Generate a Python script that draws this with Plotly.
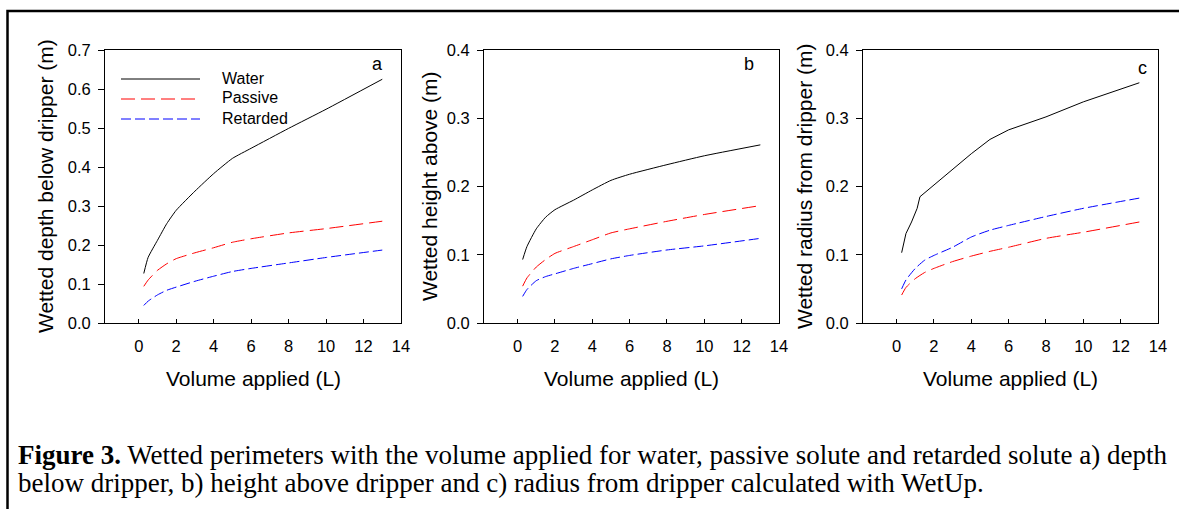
import plotly.graph_objects as go

W, H = 1179, 509

# ---------------- data ----------------
volume = [0.27, 0.5, 1, 1.5, 2, 3, 4, 5, 6, 8, 10, 13]

depth_water = [0.127, 0.168, 0.212, 0.255, 0.289, 0.338, 0.383, 0.422, 0.448, 0.499, 0.548, 0.625]
depth_passive = [0.094, 0.110, 0.135, 0.152, 0.165, 0.180, 0.193, 0.207, 0.216, 0.231, 0.242, 0.261]
depth_retarded = [0.045, 0.056, 0.072, 0.084, 0.092, 0.107, 0.120, 0.132, 0.140, 0.154, 0.168, 0.187]

height_water = [0.093, 0.112, 0.138, 0.155, 0.166, 0.180, 0.195, 0.209, 0.218, 0.232, 0.245, 0.261]
height_passive = [0.054, 0.066, 0.082, 0.093, 0.102, 0.112, 0.122, 0.132, 0.138, 0.149, 0.159, 0.172]
height_retarded = [0.039, 0.049, 0.062, 0.068, 0.072, 0.080, 0.087, 0.094, 0.099, 0.107, 0.113, 0.124]

radius_water_volume = [0.27, 0.5, 0.8, 1.1, 1.25, 2, 3, 4, 5, 6, 8, 10, 13]
radius_water = [0.103, 0.131, 0.148, 0.168, 0.185, 0.202, 0.224, 0.248, 0.269, 0.283, 0.302, 0.324, 0.352]
radius_passive = [0.041, 0.052, 0.065, 0.074, 0.080, 0.090, 0.098, 0.105, 0.111, 0.124, 0.133, 0.148]
radius_retarded = [0.050, 0.063, 0.080, 0.092, 0.099, 0.111, 0.126, 0.136, 0.143, 0.156, 0.168, 0.183]

x_ticks = [0, 2, 4, 6, 8, 10, 12, 14]
series_names = ["Water", "Passive", "Retarded"]
y_titles = ["Wetted depth below dripper (m)", "Wetted height above (m)", "Wetted radius from dripper (m)"]
panel_letters = ["a", "b", "c"]
y_max = [0.7, 0.4, 0.4]
x_title = "Volume applied (L)"
caption_1 = "<b>Figure 3.</b> Wetted perimeters with the volume applied for water, passive solute and retarded solute a) depth"
caption_2 = "below dripper, b) height above dripper and c) radius from dripper calculated with WetUp."

# ---------------- styling ----------------
SANS = "Liberation Sans, Arial, sans-serif"
SERIF = "Liberation Serif, Times New Roman, serif"
styles = {
    "Water": dict(color="black", width=1, dash="solid"),
    "Passive": dict(color="#ff0000", width=1, dash="14px,6px"),
    "Retarded": dict(color="#0000ff", width=1, dash="10px,4px"),
}

# pixel geometry of the three plot areas (left, right)
panels_px = [(105, 401), (484, 779), (863, 1158)]
top_px, bottom_px = 50, 323
ydom = [1 - bottom_px / H, 1 - top_px / H]

fig = go.Figure()

panel_data = [
    [(volume, depth_water), (volume, depth_passive), (volume, depth_retarded)],
    [(volume, height_water), (volume, height_passive), (volume, height_retarded)],
    [(radius_water_volume, radius_water), (volume, radius_passive), (volume, radius_retarded)],
]

for i, series in enumerate(panel_data):
    sfx = "" if i == 0 else str(i + 1)
    for name, (xs, ys) in zip(series_names, series):
        st = styles[name]
        shape = "linear" if (i == 2 and name == "Water") else "spline"
        fig.add_trace(go.Scatter(
            x=xs, y=ys, mode="lines", name=name, showlegend=False,
            line=dict(color=st["color"], width=st["width"], dash=st["dash"],
                      shape=shape, smoothing=0.5),
            xaxis="x" + sfx, yaxis="y" + sfx,
        ))

    l, r = panels_px[i]
    fig.layout["xaxis" + sfx] = dict(
        domain=[l / W, r / W], range=[-1.8, 14], anchor="y" + sfx,
        tickvals=x_ticks, ticks="inside", ticklen=4, tickwidth=1, tickcolor="black",
        showline=True, linecolor="black", linewidth=1, mirror=True,
        showgrid=False, zeroline=False, automargin=False,
        tickfont=dict(family=SANS, size=16.5, color="black"),
        ticklabelstandoff=8,
    )
    fig.layout["yaxis" + sfx] = dict(
        domain=ydom, range=[0, y_max[i]], anchor="x" + sfx,
        dtick=0.1, tickformat=".1f", ticks="outside", ticklen=6, tickwidth=1,
        tickcolor="black",
        showline=True, linecolor="black", linewidth=1, mirror=True,
        showgrid=False, zeroline=False, automargin=False,
        tickfont=dict(family=SANS, size=16.5, color="black"),
        ticklabelstandoff=4,
    )

annotations = []
y_title_x = [45, 429, 804]
letter_pos = [(377, 64), (749, 64), (1142, 68)]
for i in range(3):
    l, r = panels_px[i]
    annotations.append(dict(
        text=x_title, x=((l + r) / 2) / W, y=1 - 378 / H, xref="paper", yref="paper",
        showarrow=False, xanchor="center", yanchor="middle",
        font=dict(family=SANS, size=21, color="black"),
    ))
    annotations.append(dict(
        text=y_titles[i], x=y_title_x[i] / W, y=1 - 186 / H, xref="paper", yref="paper",
        showarrow=False, xanchor="center", yanchor="middle", textangle=-90,
        font=dict(family=SANS, size=21, color="black"),
    ))
    lx, ly = letter_pos[i]
    annotations.append(dict(
        text=panel_letters[i], x=lx / W, y=1 - ly / H, xref="paper", yref="paper",
        showarrow=False, xanchor="center", yanchor="middle",
        font=dict(family=SANS, size=18, color="black"),
    ))

# legend (panel a)
shapes = []
legend_rows = [79, 99, 119]
for name, yy in zip(series_names, legend_rows):
    st = styles[name]
    shapes.append(dict(
        type="line", xref="paper", yref="paper",
        x0=121 / W, x1=200 / W, y0=1 - yy / H, y1=1 - yy / H,
        line=dict(color=st["color"], width=1, dash=st["dash"]),
    ))
    annotations.append(dict(
        text=name, x=220 / W, y=1 - (yy - 1) / H, xref="paper", yref="paper",
        showarrow=False, xanchor="left", yanchor="middle",
        font=dict(family=SANS, size=16, color="black"),
    ))

# outer frame
shapes.append(dict(
    type="rect", xref="paper", yref="paper",
    x0=7.5 / W, x1=1.02, y0=-0.02, y1=1 - 11 / H,
    line=dict(color="black", width=2.5), fillcolor="rgba(0,0,0,0)",
))

# caption
for txt, yy in [(caption_1, 455), (caption_2, 483)]:
    annotations.append(dict(
        text=txt, x=16 / W, y=1 - yy / H, xref="paper", yref="paper",
        showarrow=False, xanchor="left", yanchor="middle",
        font=dict(family=SERIF, size=27, color="black"),
    ))

fig.update_layout(
    width=W, height=H, margin=dict(l=0, r=0, t=0, b=0, autoexpand=False),
    paper_bgcolor="white", plot_bgcolor="white",
    showlegend=False, annotations=annotations, shapes=shapes,
)

fig.write_html(
    "out.html",
    config={"displayModeBar": False},
    post_script="document.body.style.margin='0';document.body.style.overflow='hidden';",
)
